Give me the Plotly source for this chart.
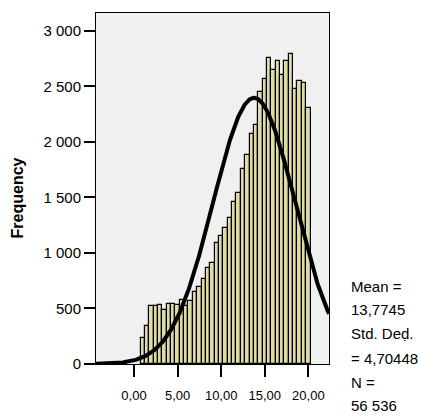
import numpy as np
import plotly.graph_objects as go

# Histogram bins (centers, width 0.5) and frequencies
bin_centers = [1.0 + 0.5 * i for i in range(39)]
frequencies = [235, 340, 518, 524, 530, 490, 539, 536, 528, 575,
               518, 570, 648, 696, 762, 863, 911, 1090, 1155, 1228,
               1318, 1457, 1540, 1753, 1878, 2074, 2152, 2452, 2571, 2756,
               2650, 2730, 2607, 2730, 2796, 2479, 2545, 2531, 2302]
bin_width = 0.5

# Stated summary statistics
mean_val = 13.7745
std_val = 4.70448
n_val = 56536

x_tick_vals = [0, 5, 10, 15, 20]
x_tick_text = ["0,00", "5,00", "10,00", "15,00", "20,00"]
y_tick_vals = [0, 500, 1000, 1500, 2000, 2500, 3000]
y_tick_text = ["0", "500", "1 000", "1 500", "2 000", "2 500", "3 000"]

stat_lines = ["Mean =", "13,7745", "Std. Deḍ.", "= 4,70448", "N =", "56 536"]

x_range = [-4.36, 22.37]
y_range = [0, 3161]

# Normal curve fitted from the stated statistics
xc = np.linspace(x_range[0], x_range[1], 400)
yc = n_val * bin_width / (std_val * np.sqrt(2 * np.pi)) * np.exp(-0.5 * ((xc - mean_val) / std_val) ** 2)

FONT = "Arial, Liberation Sans, sans-serif"

fig = go.Figure()
fig.add_trace(go.Bar(
    x=bin_centers, y=frequencies, width=bin_width,
    marker=dict(color="#DFDBA5", line=dict(color="black", width=1.2)),
    showlegend=False, hoverinfo="skip",
))
fig.add_trace(go.Scatter(
    x=xc, y=yc, mode="lines",
    line=dict(color="black", width=4),
    showlegend=False, hoverinfo="skip",
))

W, H = 421, 415
ml, mr, mt, mb = 96, 92, 13, 48
pw = W - ml - mr
ph = H - mt - mb

annotations = []
centers_px = [289, 312.5, 336, 361, 385.5, 409]
for txt, cy in zip(stat_lines, centers_px):
    annotations.append(dict(
        text=txt, xref="paper", yref="paper",
        x=(349 - ml) / pw, y=(H - mb - cy) / ph,
        xanchor="left", yanchor="middle", showarrow=False,
        font=dict(family=FONT, size=15, color="black"),
    ))
annotations.append(dict(
    text="<b>Frequency</b>", xref="paper", yref="paper",
    x=(17 - ml) / pw, y=(H - mb - 200) / ph,
    xanchor="center", yanchor="middle", textangle=-90, showarrow=False,
    font=dict(family=FONT, size=16, color="black"),
))

fig.update_layout(
    width=W, height=H,
    margin=dict(l=ml, r=mr, t=mt, b=mb, pad=0),
    paper_bgcolor="white", plot_bgcolor="#F0F0F0",
    bargap=0,
    annotations=annotations,
    font=dict(family=FONT, color="black"),
)
fig.update_xaxes(
    range=x_range, tickvals=x_tick_vals, ticktext=x_tick_text,
    ticks="outside", ticklen=12, tickwidth=1.5, tickcolor="black",
    showline=True, mirror=True, linecolor="black", linewidth=1,
    showgrid=False, zeroline=False,
    tickfont=dict(family=FONT, size=13, color="black"),
    ticklabelstandoff=7,
)
fig.update_yaxes(
    range=y_range, tickvals=y_tick_vals, ticktext=y_tick_text,
    ticks="outside", ticklen=11, tickwidth=1.5, tickcolor="black",
    showline=True, mirror=True, linecolor="black", linewidth=1,
    showgrid=False, zeroline=False,
    tickfont=dict(family=FONT, size=15, color="black"),
)

fig.write_html("out.html")
